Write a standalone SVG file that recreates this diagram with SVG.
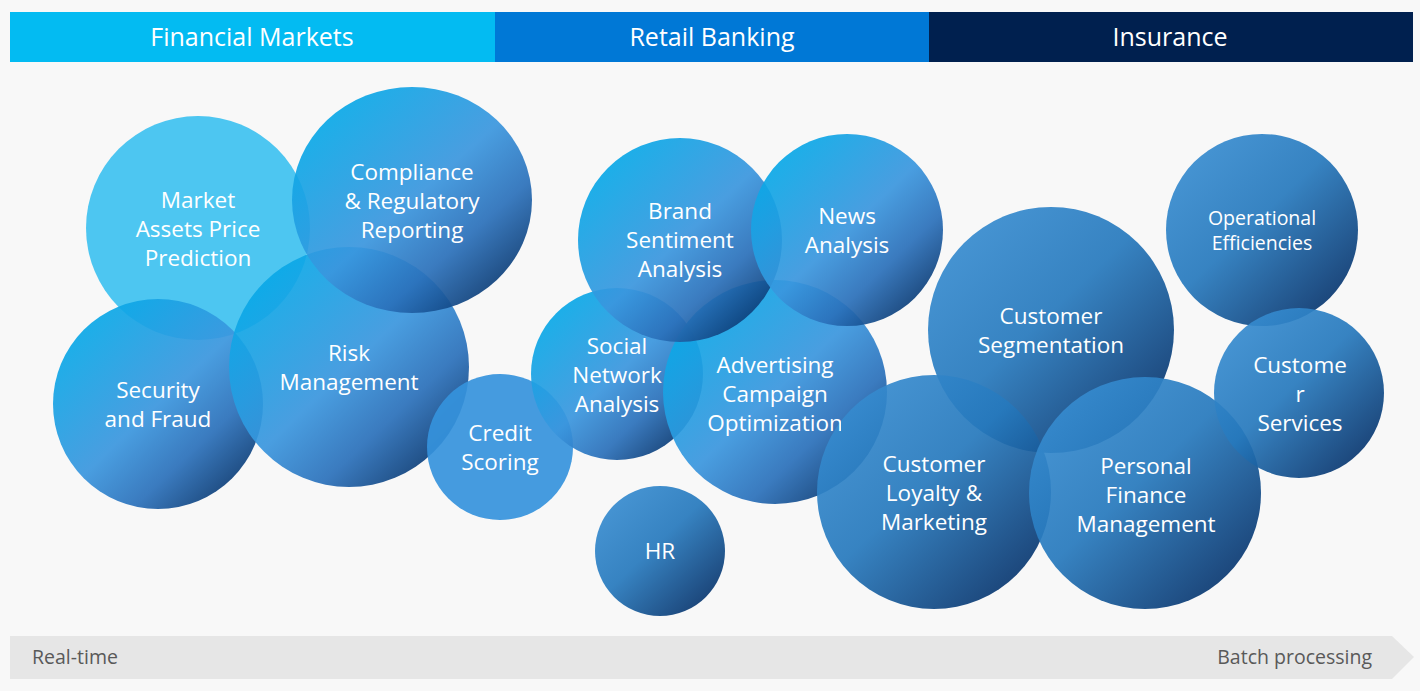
<svg xmlns="http://www.w3.org/2000/svg" width="1420" height="691" viewBox="0 0 1420 691">
<defs>
<linearGradient id="gA" x1="0.12" y1="0.1" x2="0.88" y2="0.9">
<stop offset="0" stop-color="#05aae8"/>
<stop offset="0.5" stop-color="#3a96de"/>
<stop offset="0.75" stop-color="#2a70ba"/>
<stop offset="1" stop-color="#08376f"/>
</linearGradient>
<linearGradient id="gB" x1="0.12" y1="0.1" x2="0.88" y2="0.9">
<stop offset="0" stop-color="#378cd0"/>
<stop offset="0.45" stop-color="#2679bd"/>
<stop offset="1" stop-color="#07336b"/>
</linearGradient>
<clipPath id="clipAd"><rect x="600" y="280" width="241" height="230"/></clipPath>
<style>
.b{stroke:none;opacity:0.92}
.ga{fill:url(#gA)}
.gb{fill:url(#gB)}
.t{font-family:"Open Sans","Noto Sans","DejaVu Sans",sans-serif;font-size:22.5px;fill:#ffffff;text-anchor:middle}
.t.s{font-size:19.5px}
.h{font-family:"Open Sans","Noto Sans","DejaVu Sans",sans-serif;font-size:25px;fill:#ffffff;text-anchor:middle}
.f{font-family:"Open Sans","Noto Sans","DejaVu Sans",sans-serif;font-size:19.5px;fill:#595959}
</style>
</defs>
<rect width="1420" height="691" fill="#f8f8f8"/>
<g id="header">
<rect x="10" y="12" width="485" height="50" fill="#03bbf2"/>
<rect x="495" y="12" width="434" height="50" fill="#0078d6"/>
<rect x="929" y="12" width="484" height="50" fill="#00204f"/>
<text class="h" x="252" y="46">Financial Markets</text>
<text class="h" x="712" y="46">Retail Banking</text>
<text class="h" x="1170" y="46">Insurance</text>
</g>
<g id="axis">
<polygon points="10,636 1392,636 1414,657 1392,679 10,679" fill="#e6e6e6"/>
<text class="f" x="32" y="664">Real-time</text>
<text class="f" x="1372" y="664" text-anchor="end">Batch processing</text>
</g>
<g id="connectors"></g>
<g id="market-assets"><circle class="b" cx="198" cy="228" r="112" fill="#3ec1f0" opacity="0.98"/></g>
<g id="security"><circle class="b ga" cx="158" cy="404" r="105"/></g>
<g id="risk"><circle class="b ga" cx="349" cy="367" r="120"/></g>
<g id="compliance"><ellipse class="b ga" cx="412" cy="200" rx="120" ry="113"/></g>
<g id="credit"><circle class="b" cx="500" cy="447" r="73" fill="#3592dc"/></g>
<g id="social"><circle class="b ga" cx="617" cy="374" r="86"/></g>
<g id="advertising"><circle class="b ga" cx="775" cy="392" r="112"/></g>
<g id="brand"><circle class="b ga" cx="680" cy="240" r="102"/></g>
<g id="news"><circle class="b ga" cx="847" cy="230" r="96"/></g>
<g id="hr"><circle class="b gb" cx="660" cy="551" r="65"/></g>
<g id="segmentation"><circle class="b gb" cx="1051" cy="330" r="123"/></g>
<g id="loyalty"><circle class="b gb" cx="934" cy="492" r="117"/></g>
<g id="personal-finance"><circle class="b gb" cx="1145" cy="493" r="116"/></g>
<g id="operational"><circle class="b gb" cx="1262" cy="230" r="96"/></g>
<g id="customer-services"><circle class="b gb" cx="1299" cy="393" r="85"/></g>
<g id="labels">
<text class="t" x="198" y="208">Market</text>
<text class="t" x="198" y="237">Assets Price</text>
<text class="t" x="198" y="266">Prediction</text>
<text class="t" x="412" y="180">Compliance</text>
<text class="t" x="412" y="209">&amp; Regulatory</text>
<text class="t" x="412" y="238">Reporting</text>
<text class="t" x="349" y="361">Risk</text>
<text class="t" x="349" y="390">Management</text>
<text class="t" x="158" y="398">Security</text>
<text class="t" x="158" y="427">and Fraud</text>
<text class="t" x="500" y="441">Credit</text>
<text class="t" x="500" y="470">Scoring</text>
<text class="t" x="680" y="219">Brand</text>
<text class="t" x="680" y="248">Sentiment</text>
<text class="t" x="680" y="277">Analysis</text>
<text class="t" x="847" y="224">News</text>
<text class="t" x="847" y="253">Analysis</text>
<text class="t" x="617" y="354">Social</text>
<text class="t" x="617" y="383">Network</text>
<text class="t" x="617" y="412">Analysis</text>
<g clip-path="url(#clipAd)">
<text class="t" x="775" y="373">Advertising</text>
<text class="t" x="775" y="402">Campaign</text>
<text class="t" x="775" y="431">Optimization</text>
</g>
<text class="t" x="660" y="559">HR</text>
<text class="t" x="1051" y="324">Customer</text>
<text class="t" x="1051" y="353">Segmentation</text>
<text class="t s" x="1262" y="225">Operational</text>
<text class="t s" x="1262" y="250">Efficiencies</text>
<text class="t" x="1300" y="373">Custome</text>
<text class="t" x="1300" y="402">r</text>
<text class="t" x="1300" y="431">Services</text>
<text class="t" x="934" y="472">Customer</text>
<text class="t" x="934" y="501">Loyalty &amp;</text>
<text class="t" x="934" y="530">Marketing</text>
<text class="t" x="1146" y="474">Personal</text>
<text class="t" x="1146" y="503">Finance</text>
<text class="t" x="1146" y="532">Management</text>
</g>
</svg>
